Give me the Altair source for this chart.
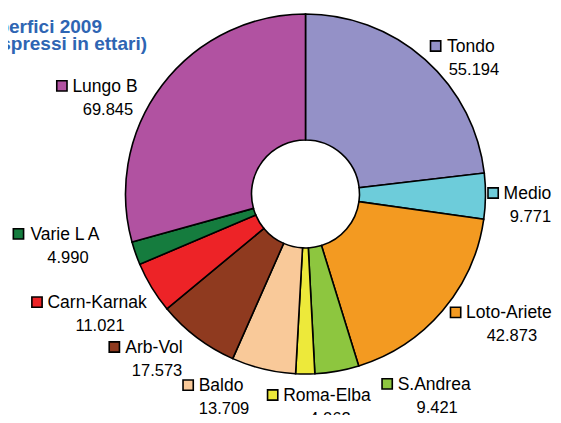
import math
import altair as alt
import pandas as pd

# ---- data ----
categories = ["Tondo", "Medio", "Loto-Ariete", "S.Andrea", "Roma-Elba",
              "Baldo", "Arb-Vol", "Carn-Karnak", "Varie L A", "Lungo B"]
values = [55194, 9771, 42873, 9421, 4062, 13709, 17573, 11021, 4990, 69845]
title_lines = ["Superfici 2009", "(espressi in ettari)"]

# ---- style ----
colors = ["#9491C7", "#6DCCDA", "#F39A21", "#8DC63F", "#EDE93A",
          "#F9C999", "#8F3A1F", "#ED2327", "#157C3E", "#B152A1"]
FONT = "Liberation Sans"

# ---- layout ----
W, H = 545, 407
CX, CY = 297.5, 186
R_OUT, R_IN = 180, 54
label_shift_deg = [7.7, 0.6, -9.0, -23.2, -6.0, 9.7, 6.5, 2.6, 8.4, -10.3]
label_radius = [218, 222, 238.4, 234.4, 208.1, 214.4, 219.6, 237.6, 244.9, 225]
NAME_SIZE, VALUE_SIZE = 17.5, 16.5

ARIAL = {"T": 611, "o": 556, "n": 556, "d": 556, "M": 833, "e": 556, "i": 222,
         "L": 556, "t": 278, "-": 333, "A": 667, "r": 333, "S": 667, ".": 278,
         "a": 556, "R": 722, "m": 833, "E": 667, "l": 222, "b": 556, "B": 667,
         "V": 667, "C": 722, "K": 667, "k": 500, "u": 556, "g": 556, " ": 278}


def text_width(s, size):
    return sum(ARIAL.get(ch, 556) for ch in s) / 1000 * size


def fmt(v):
    return f"{v:,}".replace(",", ".")


total = sum(values)
pie_df = pd.DataFrame({"category": categories, "value": values,
                       "idx": list(range(len(values)))})

rows = []
cum = 0
for i, (c, v) in enumerate(zip(categories, values)):
    mid = (cum + v / 2) / total * 360
    cum += v
    ang = math.radians(mid + label_shift_deg[i])
    ax = CX + label_radius[i] * math.sin(ang)
    ay = CY - label_radius[i] * math.cos(ang)
    w = text_width(c, NAME_SIZE)
    rows.append({"category": c, "value_txt": fmt(v),
                 "nx": ax, "ny": ay,
                 "vx": ax + 3, "vy": ay + 23,
                 "sx": ax - w / 2 - 10.5, "sy": ay - 6})
lab_df = pd.DataFrame(rows)

color_scale = alt.Scale(domain=categories, range=colors)

pie = alt.Chart(pie_df).mark_arc(
    outerRadius=R_OUT, innerRadius=R_IN, stroke="black", strokeWidth=1.6
).encode(
    theta=alt.Theta("value:Q", stack=True),
    order=alt.Order("idx:Q"),
    color=alt.Color("category:N", scale=color_scale, legend=None),
    x=alt.value(CX), y=alt.value(CY),
)

base = alt.Chart(lab_df)

squares = base.mark_point(
    shape="square", filled=True, size=105, stroke="black", strokeWidth=1.6, opacity=1
).encode(
    x=alt.X("sx:Q", scale=None, axis=None),
    y=alt.Y("sy:Q", scale=None, axis=None),
    fill=alt.Fill("category:N", scale=color_scale, legend=None),
)

names = base.mark_text(
    align="center", baseline="alphabetic", font=FONT, fontSize=NAME_SIZE, color="black"
).encode(
    x=alt.X("nx:Q", scale=None, axis=None),
    y=alt.Y("ny:Q", scale=None, axis=None),
    text="category:N",
)

vals = base.mark_text(
    align="center", baseline="alphabetic", font=FONT, fontSize=VALUE_SIZE, color="black"
).encode(
    x=alt.X("vx:Q", scale=None, axis=None),
    y=alt.Y("vy:Q", scale=None, axis=None),
    text="value_txt:N",
)

t1 = alt.Chart(pd.DataFrame({"t": [title_lines[0]]})).mark_text(
    align="right", baseline="alphabetic", font=FONT, fontSize=19, fontWeight="bold",
    color="#2E65B3"
).encode(text="t:N", x=alt.value(94), y=alt.value(25))

t2 = alt.Chart(pd.DataFrame({"t": [title_lines[1]]})).mark_text(
    align="right", baseline="alphabetic", font=FONT, fontSize=19, fontWeight="bold",
    color="#2E65B3"
).encode(text="t:N", x=alt.value(139), y=alt.value(42))

chart = alt.layer(pie, squares, names, vals, t1, t2).properties(
    width=W, height=H, autosize=alt.AutoSizeParams(type="none"), padding=0
).configure_view(strokeWidth=0)

chart.save("out.html", embed_options={"renderer": "svg", "actions": False})
